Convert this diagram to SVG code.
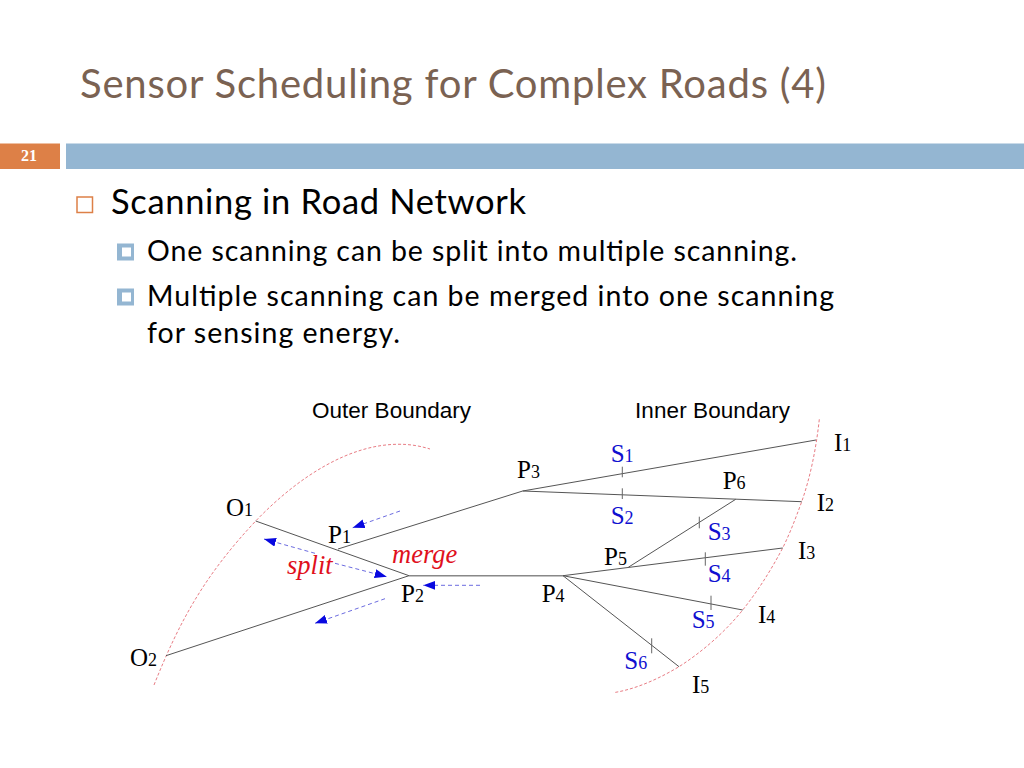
<svg xmlns="http://www.w3.org/2000/svg" width="1024" height="768" viewBox="0 0 1024 768">
<style>
.title{font-family:"Lato","Noto Sans",sans-serif;font-size:40px;fill:#7a6252}
.b1{font-family:"Lato","Noto Sans",sans-serif;font-size:34.500px;fill:#000}
.b2{font-family:"Lato","Noto Sans",sans-serif;font-size:28.500px;fill:#000}
.ar{font-family:"Liberation Sans",Arial,sans-serif;font-size:22.500px;fill:#000}
.lb{font-family:"Liberation Serif","Times New Roman",serif;font-size:25px;fill:#000}
.s{fill:#1010d0}
.it{font-family:"Liberation Serif","Times New Roman",serif;font-style:italic;font-size:26.500px;fill:#e0101c}
.sub{font-size:18px}
.road{stroke:#555;stroke-width:1;fill:none}
.trunk{stroke:#888;stroke-width:1.500;fill:none}
.tick{stroke:#666;stroke-width:1;fill:none}
.bound{stroke:#e87c84;stroke-width:1;stroke-dasharray:3 2;fill:none}
.flow{stroke:#6c6ce0;stroke-width:1;stroke-dasharray:4 3;fill:none;marker-end:url(#ah)}
</style>
<defs>
<marker id="ah" markerUnits="userSpaceOnUse" markerWidth="14" markerHeight="10" refX="12" refY="4.500" orient="auto">
<path d="M0 0L12 4.500L0 9Z" fill="#0808e0"/>
</marker>
</defs>
<rect width="1024" height="768" fill="#fff"/>
<text class="title" x="80" y="98" textLength="746" lengthAdjust="spacing">Sensor Scheduling for Complex Roads (4)</text>
<rect x="0" y="143.500" width="60" height="25.500" fill="#dd8047"/>
<rect x="66" y="143.500" width="958" height="25.500" fill="#94b6d2"/>
<text x="29" y="160.500" text-anchor="middle" font-family="Liberation Serif,serif" font-weight="bold" font-size="16" fill="#fff">21</text>
<rect x="77" y="197" width="15.500" height="15.500" fill="none" stroke="#dd8047" stroke-width="1.500"/>
<text class="b1" x="111" y="214" textLength="415" lengthAdjust="spacing">Scanning in Road Network</text>
<path d="M117 243.500h17v17h-17zM122 247.500v9h9v-9z" fill="#94b6d2" fill-rule="evenodd"/>
<text class="b2" x="147" y="261" textLength="650" lengthAdjust="spacing">One scanning can be split into multiple scanning.</text>
<path d="M117 288.500h17v17h-17zM122 292.500v9h9v-9z" fill="#94b6d2" fill-rule="evenodd"/>
<text class="b2" x="147" y="306" textLength="687" lengthAdjust="spacing">Multiple scanning can be merged into one scanning</text>
<text class="b2" x="147" y="343" textLength="253" lengthAdjust="spacing">for sensing energy.</text>

<text class="ar" x="312" y="418" textLength="159">Outer Boundary</text>
<text class="ar" x="635" y="418" textLength="155">Inner Boundary</text>

<g id="boundaries">
<path class="bound" d="M154 685C180 620 205 575 255.700 521C300 475 350 445 396.700 444.300C410 444 420 446 430 449"/>
<path class="bound" d="M819.300 419.300C816 450 810 478 801.700 501.700C795 520 790 533 782.700 548C770 572 757 592 742.700 610C725 632 702 652 679 666.700C660 678 637 689 613.300 692.700"/>
</g>
<g id="connectors">
<path class="road" d="M255.700 521L409 575.700"/>
<path class="road" d="M166 655.700L409 575.700"/>
<path class="road" d="M338 549L522.700 491"/>
<path class="trunk" d="M409 575.700H563"/>
<path class="road" d="M522.700 491L816 440"/>
<path class="road" d="M522.700 491L801.700 501.700"/>
<path class="road" d="M563 575.700L782.700 548"/>
<path class="road" d="M628.300 567.300L735.700 499.300"/>
<path class="road" d="M563 575.700L742.700 610"/>
<path class="road" d="M563 575.700L679 666.700"/>
<path class="tick" d="M622.300 466.700V477.300M622.300 488.300V499M699.300 516.700V528.300M705.300 552.300V565.700M711 595.700V610M651.700 638.300V653.300"/>
<path class="flow" d="M400 511L352.700 527.700"/>
<path class="flow" d="M315 553.300L264 539"/>
<path class="flow" d="M335 563.300L386.700 576.700"/>
<path class="flow" d="M480 585.300H423.300"/>
<path class="flow" d="M385 598.700L315 623.300"/>
</g>
<g id="O1"><text class="lb" x="226" y="516">O<tspan class="sub">1</tspan></text></g>
<g id="O2"><text class="lb" x="130" y="666">O<tspan class="sub">2</tspan></text></g>
<g id="P1"><text class="lb" x="328" y="543">P<tspan class="sub">1</tspan></text></g>
<g id="P2"><text class="lb" x="401" y="602">P<tspan class="sub">2</tspan></text></g>
<g id="P3"><text class="lb" x="517" y="478">P<tspan class="sub">3</tspan></text></g>
<g id="P4"><text class="lb" x="541.700" y="602">P<tspan class="sub">4</tspan></text></g>
<g id="P5"><text class="lb" x="604" y="565">P<tspan class="sub">5</tspan></text></g>
<g id="P6"><text class="lb" x="722.700" y="489">P<tspan class="sub">6</tspan></text></g>
<g id="I1"><text class="lb" x="834" y="451">I<tspan class="sub">1</tspan></text></g>
<g id="I2"><text class="lb" x="816.700" y="510.700">I<tspan class="sub">2</tspan></text></g>
<g id="I3"><text class="lb" x="798" y="559.300">I<tspan class="sub">3</tspan></text></g>
<g id="I4"><text class="lb" x="758" y="623">I<tspan class="sub">4</tspan></text></g>
<g id="I5"><text class="lb" x="692" y="693">I<tspan class="sub">5</tspan></text></g>
<g id="S1"><text class="lb s" x="610.700" y="462">S<tspan class="sub">1</tspan></text></g>
<g id="S2"><text class="lb s" x="610.700" y="524">S<tspan class="sub">2</tspan></text></g>
<g id="S3"><text class="lb s" x="707.700" y="540">S<tspan class="sub">3</tspan></text></g>
<g id="S4"><text class="lb s" x="707.700" y="582.300">S<tspan class="sub">4</tspan></text></g>
<g id="S5"><text class="lb s" x="691.700" y="627.700">S<tspan class="sub">5</tspan></text></g>
<g id="S6"><text class="lb s" x="624.300" y="669">S<tspan class="sub">6</tspan></text></g>
<text class="it" x="392" y="563">merge</text>
<text class="it" x="287" y="574">split</text>
</svg>
